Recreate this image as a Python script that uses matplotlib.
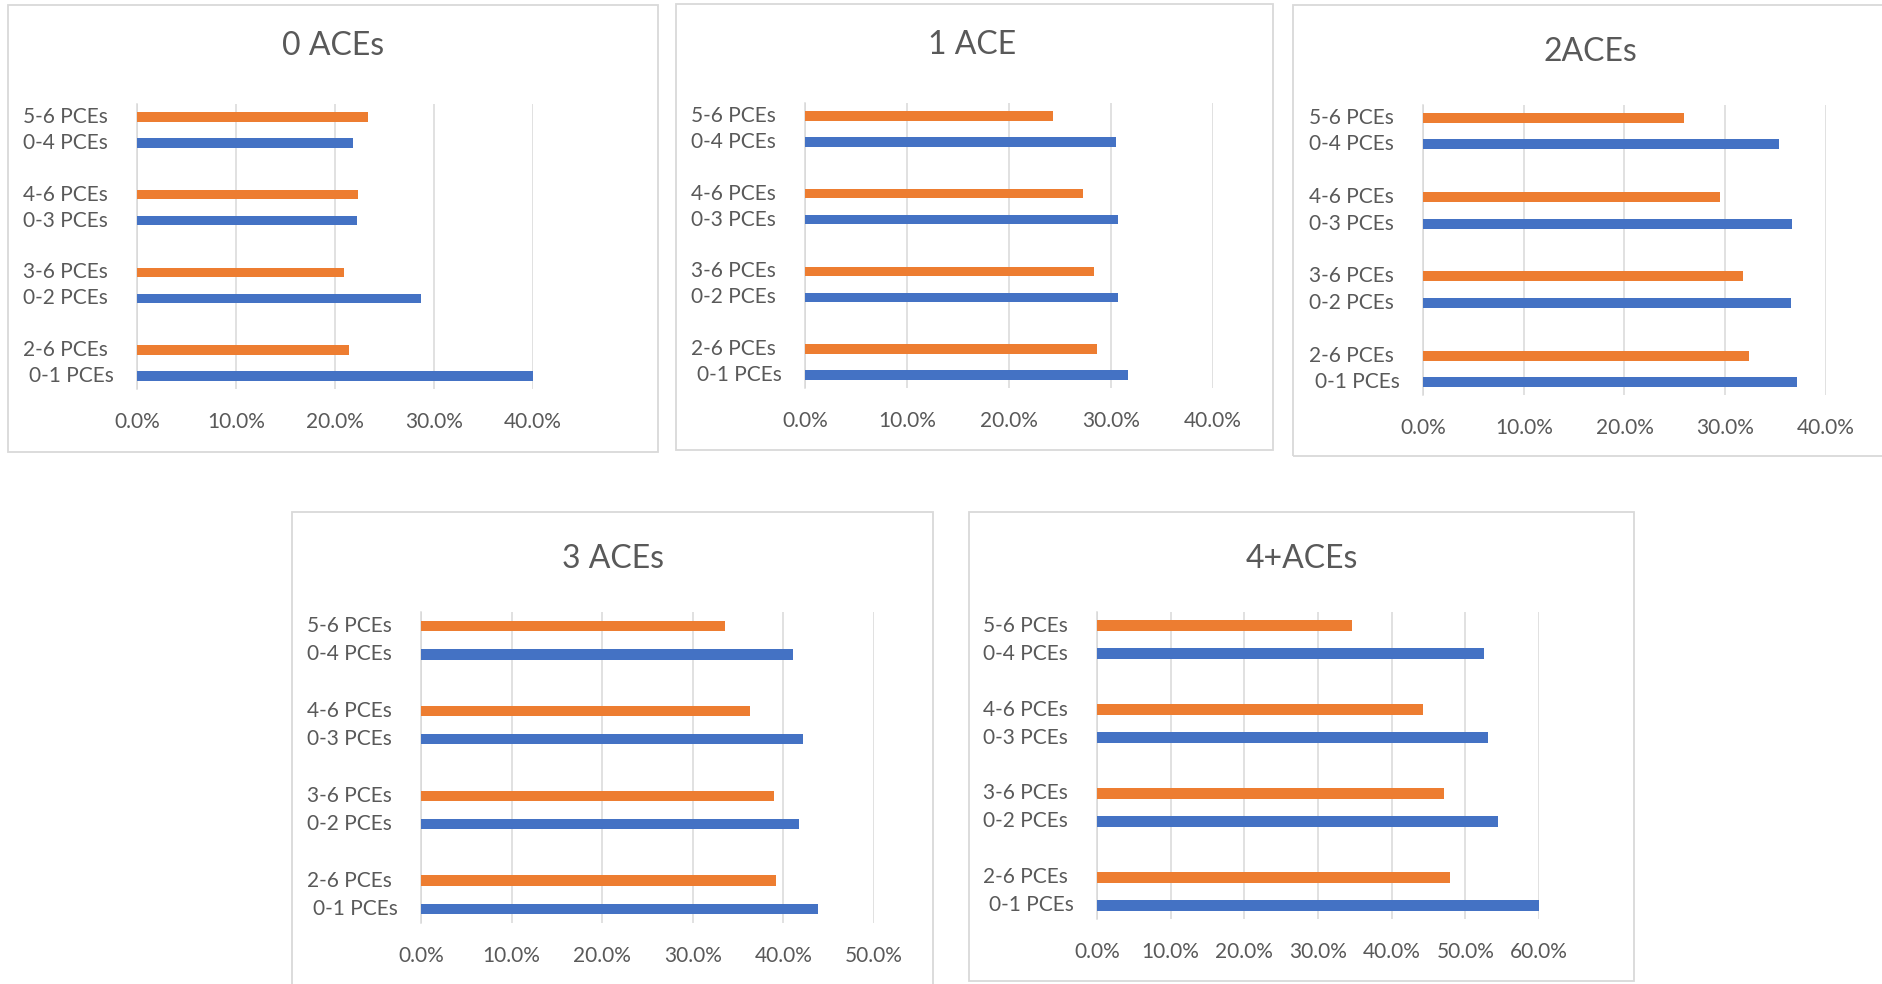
import matplotlib; matplotlib.use('Agg')
import matplotlib.pyplot as plt
import matplotlib.transforms as mtransforms
from matplotlib.patches import Rectangle

plt.rcParams['font.family'] = ['Lato', 'DejaVu Sans']

# data (percent), groups listed bottom to top
low_labels = ["0-1 PCEs", "0-2 PCEs", "0-3 PCEs", "0-4 PCEs"]
high_labels = ["2-6 PCEs", "3-6 PCEs", "4-6 PCEs", "5-6 PCEs"]
titles = ["0 ACEs", "1 ACE", "2ACEs", "3 ACEs", "4+ACEs"]
axis_max = [40, 40, 40, 50, 60]

blue_0 = [40.0, 28.7, 22.2, 21.8]
orange_0 = [21.4, 20.9, 22.3, 23.3]
blue_1 = [31.7, 30.7, 30.7, 30.5]
orange_1 = [28.6, 28.3, 27.3, 24.3]
blue_2 = [37.1, 36.5, 36.6, 35.3]
orange_2 = [32.4, 31.8, 29.5, 25.9]
blue_3 = [43.8, 41.7, 42.2, 41.1]
orange_3 = [39.2, 39.0, 36.3, 33.6]
blue_4 = [60.1, 54.5, 53.1, 52.5]
orange_4 = [47.9, 47.1, 44.2, 34.6]

blues = [blue_0, blue_1, blue_2, blue_3, blue_4]
oranges = [orange_0, orange_1, orange_2, orange_3, orange_4]

W, H = 1883, 984
BLUE, ORANGE = '#4472C4', '#ED7D31'
TXT, GRID = '#595959', '#d9d9d9'

# layout in pixels (from top-left): border box, plot box, title centre
borders = [(8, 5, 658, 452), (676, 4, 1273, 450), (1293, 5, 1900, 456),
           (292, 512, 933, 1000), (969, 512, 1634, 981)]
plots = [(137, 104, 533, 389), (805, 103, 1213, 388), (1423, 105, 1826, 395),
         (421, 612, 874, 923), (1097, 612, 1539, 919)]
title_pos = [(333, 46), (972, 45), (1590, 52), (613, 559), (1302, 559)]

fig = plt.figure(figsize=(W / 100, H / 100), dpi=100)

for i in range(5):
    bx0, by0, bx1, by1 = borders[i]
    fig.add_artist(Rectangle((bx0 / W, 1 - by1 / H), (bx1 - bx0) / W, (by1 - by0) / H,
                             transform=fig.transFigure, fill=False, ec=GRID, lw=1.3))
    tx, ty = title_pos[i]
    fig.text(tx / W, 1 - ty / H, titles[i], ha='center', va='center',
             fontsize=23, color=TXT)

    x0, y0, x1, y1 = plots[i]
    ax = fig.add_axes([x0 / W, 1 - y1 / H, (x1 - x0) / W, (y1 - y0) / H])
    ys = list(range(4))
    ax.barh([y - 0.1667 for y in ys], blues[i], height=0.125, color=BLUE, zorder=3)
    ax.barh([y + 0.1667 for y in ys], oranges[i], height=0.125, color=ORANGE, zorder=3)
    ax.set_xlim(0, axis_max[i])
    ax.set_ylim(-0.33, 3.33)
    ticks = list(range(0, axis_max[i] + 1, 10))
    ax.set_xticks(ticks)
    ax.set_xticklabels([f"{t:.1f}%" for t in ticks])
    ax.set_yticks([])
    ax.tick_params(axis='x', length=0, pad=16.5, labelsize=15, labelcolor=TXT)
    ax.grid(axis='x', color=GRID, lw=1.1, zorder=0)
    for s in ['top', 'right', 'bottom']:
        ax.spines[s].set_visible(False)
    ax.spines['left'].set_color(GRID)
    ax.spines['left'].set_linewidth(1.1)

    tr = mtransforms.offset_copy(ax.get_yaxis_transform(), fig=fig, x=-29, y=0, units='dots')
    tr01 = mtransforms.offset_copy(ax.get_yaxis_transform(), fig=fig, x=-23, y=0, units='dots')
    for y in ys:
        ax.text(0, y - 0.1667, low_labels[y], ha='right', va='center', fontsize=15,
                color=TXT, transform=tr01 if y == 0 else tr)
        ax.text(0, y + 0.1667, high_labels[y], ha='right', va='center', fontsize=15,
                color=TXT, transform=tr)

plt.savefig('out.png', dpi=100)
